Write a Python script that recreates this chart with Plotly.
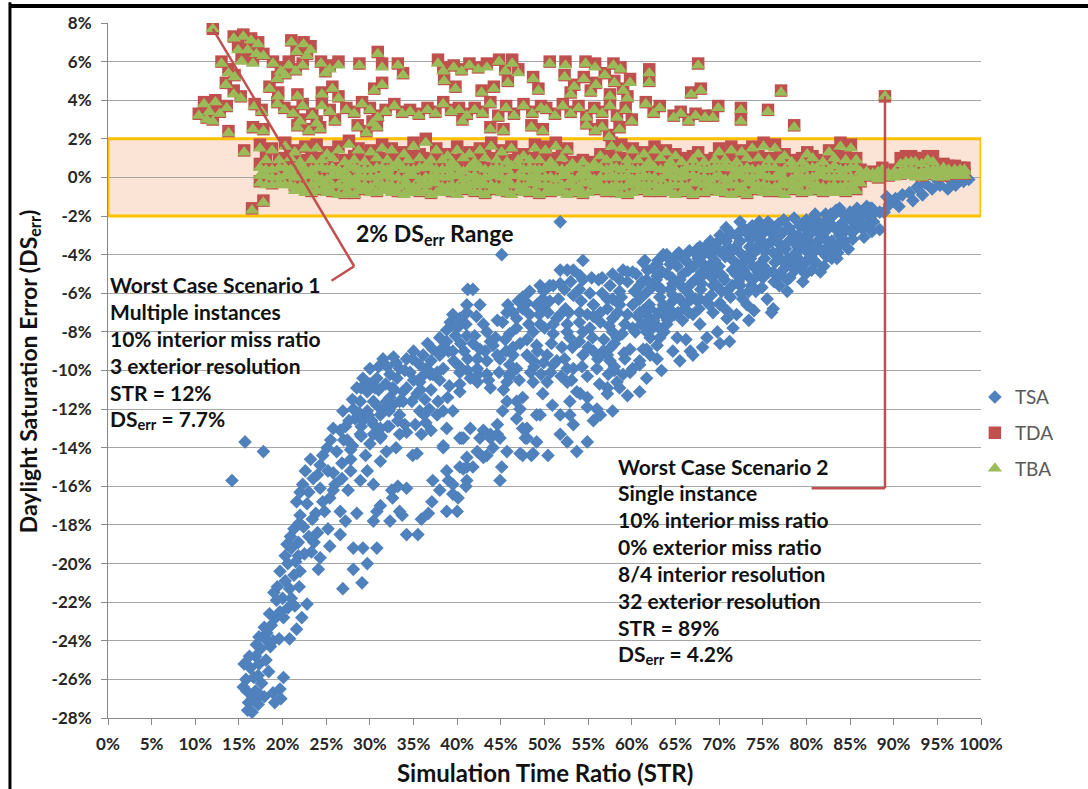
import plotly.graph_objects as go

# ---------------- TSA (Simulation Time Ratio %, Daylight Saturation Error %) ----------------
tsa_tail_str = [
    14.2, 15.7, 17.8, 16.5, 16.1, 17.2, 15.9, 16.9, 15.8, 16.7,
    17.6, 16.3, 17.3, 16.9, 18.1, 17.5, 18.0, 18.6, 17.9, 18.7,
    19.2, 18.5, 19.7, 20.1, 19.3, 19.1, 18.9, 19.7, 20.1, 19.8,
    20.6, 22.8, 22.2, 21.6, 20.8, 21.4, 19.4, 19.7, 20.3, 20.8,
    21.3, 22.0, 19.0, 20.6, 24.1, 16.6, 17.0, 15.6,
    17.4, 16.2, 18.9, 19.6, 18.2, 17.2, 20.0, 21.0, 21.9, 21.8,
    23.3, 23.8, 24.6, 25.8, 25.2, 22.0, 26.8, 27.8, 20.5, 24.0,
    15.5, 16.0, 17.9, 18.4, 17.3,
]
tsa_tail_err = [
    -15.7, -13.7, -14.2, -27.7, -27.2, -27.3, -26.6, -26.6, -26.0, -25.9,
    -26.2, -25.4, -25.2, -24.8, -25.0, -24.4, -23.9, -24.3, -23.3, -23.2,
    -22.8, -22.6, -22.5, -22.8, -21.9, -27.2, -26.7, -26.5, -25.9, -27.0,
    -22.3, -22.1, -22.8, -23.4, -23.9, -22.2, -21.2, -20.4, -20.9, -21.3,
    -20.6, -20.4, -21.5, -20.0, -20.3, -26.9, -24.2, -25.2,
    -26.8, -24.8, -24.0, -23.9, -23.6, -25.8, -21.8, -21.8, -21.2, -19.6,
    -19.4, -17.4, -16.8, -16.2, -15.2, -16.3, -15.6, -15.2, -19.0, -18.4,
    -26.4, -27.6, -26.9, -25.6, -23.8,
]

tsa_low_str = [
    20.3, 21.0, 20.9, 21.8, 22.5, 21.5, 23.0, 22.4, 21.3, 21.6,
    22.0, 22.3, 23.5, 24.3, 25.4, 24.3, 25.1, 22.8, 23.4, 23.0,
    24.8, 25.8, 24.0, 21.9, 22.6, 23.2, 24.6, 25.5, 26.2, 26.6,
    25.8, 26.9, 27.6, 28.1, 28.3, 28.9, 27.4, 26.8, 26.0, 26.6,
    28.5, 27.5, 28.9, 29.7, 30.0, 30.4, 31.2, 31.9, 29.5, 30.4,
    30.8, 32.3, 33.4, 32.5, 33.2, 34.2, 32.6, 30.4, 31.2, 33.7,
    34.2, 35.5, 28.1, 29.2, 30.8, 29.7, 28.1, 26.9, 29.1, 25.4,
    24.3, 26.6, 27.2, 23.6, 25.2, 27.8, 29.0, 30.2, 31.3, 32.2,
]
tsa_low_err = [
    -19.6, -19.2, -18.6, -18.9, -19.5, -19.9, -18.6, -18.1, -18.2, -16.8,
    -17.5, -15.9, -15.6, -16.1, -16.6, -14.9, -14.0, -16.9, -17.7, -16.3,
    -17.3, -15.3, -15.4, -17.9, -15.2, -14.6, -14.4, -13.6, -14.2, -13.1,
    -13.0, -12.1, -12.6, -12.0, -12.5, -13.3, -13.6, -14.8, -15.9, -17.3,
    -17.4, -16.2, -15.7, -15.2, -13.8, -13.3, -14.7, -14.2, -14.4, -15.9,
    -17.3, -17.8, -17.3, -16.2, -16.0, -16.1, -16.6, -17.8, -17.0, -17.5,
    -18.5, -18.5, -19.2, -19.2, -19.2, -20.0, -20.3, -21.3, -21.0, -19.1,
    -19.7, -18.5, -17.8, -18.9, -18.2, -14.6, -12.9, -12.6, -13.4, -12.9,
]

tsa_left_str = [
    27.2, 28.0, 28.5, 28.9, 29.2, 29.7, 29.7, 30.0, 30.4, 30.8,
    31.2, 31.5, 31.5, 31.9, 32.3, 32.3, 32.6, 32.6, 33.1, 33.4,
    33.4, 33.4, 33.4, 33.8, 34.2, 34.2, 34.6, 35.0, 34.9, 34.9,
    35.4, 35.4, 35.7, 35.7, 35.7, 36.1, 36.5, 36.9, 37.2, 37.2,
    37.7, 37.7, 38.0, 38.4, 38.4, 39.5, 40.3, 40.7, 38.4, 40.3,
    29.0, 30.4, 31.2, 32.0, 27.8, 36.3, 37.0, 36.6, 35.9, 37.0,
    39.1, 39.8, 38.9, 34.0, 36.4, 30.6, 31.0, 29.2, 33.0, 32.7,
    27.0, 28.0, 29.0, 28.8, 30.0, 29.8, 31.0, 30.8, 31.2, 32.0,
    31.8, 32.2, 33.0, 32.8, 33.2, 34.0, 33.8, 34.2, 35.0, 34.8,
    35.2, 36.0, 35.8, 36.2, 37.0, 36.8, 38.0, 37.8, 39.0, 38.8,
]
tsa_left_err = [
    -12.9, -11.5, -10.9, -11.6, -10.4, -11.1, -12.1, -9.9, -11.6, -10.4,
    -12.3, -9.4, -12.1, -11.6, -10.2, -11.4, -10.9, -11.8, -10.4, -9.9,
    -11.6, -12.3, -13.3, -11.1, -9.4, -10.9, -10.1, -10.5, -9.4, -14.4,
    -11.2, -14.3, -9.7, -10.6, -12.1, -9.2, -9.9, -10.2, -8.9, -10.2,
    -10.1, -12.3, -9.2, -12.1, -13.9, -12.1, -11.1, -13.5, -9.9, -10.1,
    -13.4, -12.8, -13.5, -12.9, -14.1, -11.5, -11.0, -8.6, -13.3, -13.1,
    -10.8, -9.6, -11.4, -12.8, -12.7, -10.9, -11.0, -12.6, -14.0, -9.3,
    -13.6, -13.9, -10.9, -12.2, -10.7, -12.3, -9.8, -11.8, -13.0, -9.8,
    -10.7, -12.1, -9.6, -11.0, -12.6, -10.0, -11.6, -13.2, -9.0, -11.6,
    -12.8, -10.3, -11.0, -12.3, -9.5, -12.0, -10.5, -11.6, -9.0, -13.0,
]

tsa_mid_str = [
    38.8, 38.8, 39.2, 39.5, 40.3, 40.0, 41.1, 41.1, 41.2, 41.8,
    42.6, 38.0, 38.4, 39.5, 41.8, 41.2, 41.5, 41.1, 42.3, 43.4,
    44.1, 44.9, 46.0, 46.4, 42.3, 42.6, 43.8, 44.6, 46.4, 46.8,
    45.7, 43.4, 40.3, 42.3, 43.8, 45.1, 47.5, 48.3, 46.8, 45.2,
    46.0, 48.7, 49.1, 49.5, 48.3, 50.6, 48.0, 49.8, 52.3, 54.0,
    47.5, 49.1, 45.7, 48.0, 49.5, 45.5, 51.0, 51.8, 54.0, 52.6,
    55.2, 55.6, 57.2, 57.8, 58.6, 59.5, 60.1, 54.4, 52.6, 54.4,
    51.8, 53.3, 54.1, 49.9, 51.0, 50.0, 53.3, 51.4, 52.6, 52.9,
    51.0, 54.0, 51.4, 52.6, 50.3, 53.7, 54.9, 48.7, 50.3, 51.0,
    53.3, 54.4, 55.6, 57.2, 56.0, 52.6, 52.9, 54.1, 54.9, 56.0,
    57.2, 58.3, 59.0, 60.1, 60.9, 61.3, 62.9, 62.9, 51.8, 56.6,
    39.8, 39.6, 41.0, 40.8, 41.2, 42.2, 42.0, 42.4, 43.4, 43.2,
    43.6, 44.6, 44.4, 44.8, 45.8, 45.6, 46.0, 47.0, 46.8, 47.2,
    47.1, 48.2, 48.0, 48.4, 49.4, 49.2, 49.6, 50.6, 50.4, 50.8,
    50.7, 51.8, 51.6, 52.0, 51.9, 53.0, 52.8, 53.2, 53.1, 54.2,
    54.0, 54.4, 54.3, 55.4, 55.2, 55.6, 55.5, 56.6, 56.4, 56.8,
    57.8, 57.6, 58.0, 59.0, 58.8, 59.2, 59.1,
]
tsa_mid_err = [
    -7.9, -8.5, -7.5, -7.1, -7.3, -7.8, -6.6, -7.0, -5.8, -5.8,
    -6.6, -8.3, -8.8, -9.0, -8.6, -9.4, -10.4, -8.2, -9.4, -9.5,
    -8.7, -9.4, -9.7, -9.2, -9.9, -8.9, -8.5, -9.2, -8.8, -9.9,
    -10.6, -10.2, -10.7, -10.6, -10.9, -4.0, -6.2, -7.1, -7.8, -7.5,
    -8.1, -8.0, -8.7, -5.6, -5.9, -5.6, -6.5, -6.3, -5.8, -5.8,
    -6.8, -6.6, -7.0, -8.4, -7.6, -8.4, -7.6, -7.1, -7.5, -8.0,
    -7.8, -6.6, -6.8, -6.3, -5.9, -5.4, -4.9, -4.3, -4.8, -5.3,
    -4.8, -4.8, -5.1, -5.9, -5.6, -6.8, -6.1, -7.3, -7.6, -8.3,
    -8.1, -8.5, -9.5, -9.9, -10.6, -11.1, -11.4, -9.5, -9.2, -9.7,
    -9.9, -9.2, -9.0, -9.2, -9.9, -10.6, -11.6, -11.2, -11.9, -12.0,
    -10.9, -10.6, -10.2, -9.9, -9.5, -8.9, -8.7, -9.4, -2.3, -5.2,
    -8.2, -9.5, -7.6, -9.0, -10.0, -7.2, -8.2, -10.2, -8.0, -9.0,
    -10.5, -7.4, -8.3, -10.1, -6.6, -9.0, -10.3, -6.4, -7.3, -8.6,
    -10.5, -7.6, -9.2, -10.1, -7.1, -9.0, -10.2, -6.4, -7.0, -8.6,
    -10.1, -5.5, -6.3, -8.8, -10.3, -5.4, -7.0, -8.8, -10.5, -6.4,
    -7.0, -8.0, -9.8, -5.2, -6.0, -7.2, -8.3, -6.0, -7.0, -8.4,
    -5.0, -8.8, -9.8, -4.8, -6.2, -7.6, -9.1,
]

tsa_midlow_str = [
    45.7, 47.5, 47.2, 48.0, 49.5, 51.8, 52.9, 53.3, 51.8, 52.6,
    55.6, 56.4, 57.8, 54.9, 53.7, 44.6, 43.8, 42.6, 41.5, 48.0,
    48.7, 47.2, 44.1, 43.0, 40.3, 40.7, 38.4, 44.9, 45.7, 45.1,
    44.9, 47.5, 48.5, 47.8, 49.1, 50.4, 43.4, 43.8, 42.3, 41.1,
    41.8, 41.1, 41.0, 40.3, 40.5, 39.0, 38.8, 39.5, 40.1, 38.0,
    38.8, 37.1, 36.7, 35.9, 37.2, 39.5, 41.1, 40.0, 46.8, 49.1,
    46.8, 45.2, 48.7, 43.0, 44.6, 47.5, 46.0, 45.3, 49.8, 50.9,
]
tsa_midlow_err = [
    -11.6, -11.4, -12.0, -13.0, -12.3, -12.3, -12.3, -12.8, -13.3, -13.7,
    -12.6, -12.3, -12.1, -13.7, -14.2, -12.8, -13.3, -13.5, -13.0, -13.5,
    -14.3, -14.3, -14.0, -14.5, -13.5, -15.1, -14.0, -13.5, -14.2, -15.0,
    -15.7, -14.4, -14.4, -13.5, -13.7, -14.4, -14.4, -13.5, -14.2, -15.0,
    -15.0, -15.7, -16.0, -15.0, -13.5, -15.7, -15.2, -16.4, -16.6, -16.2,
    -17.3, -16.8, -17.4, -17.7, -15.7, -15.9, -14.5, -17.3, -11.6, -12.3,
    -12.5, -12.1, -10.6, -13.1, -13.3, -13.0, -10.2, -11.0, -11.2, -11.8,
]

tsa_main_str = [
    61.5, 64.0, 65.2, 64.4, 62.9, 61.7, 60.9, 62.9, 61.3, 59.5,
    58.6, 57.5, 57.2, 55.6, 54.9, 67.5, 68.6, 70.1, 72.4, 65.9,
    72.4, 74.7, 76.2, 78.5, 80.1, 82.4, 83.0, 83.8, 80.8, 78.5,
    77.0, 76.2, 74.7, 73.9, 72.4, 70.9, 72.7, 70.1, 69.3, 67.8,
    66.3, 64.7, 63.6, 62.9, 60.9, 60.1, 58.6, 57.8, 75.5, 77.8,
    79.3, 80.8, 82.4, 83.8, 84.6, 85.3, 73.2, 70.9, 71.6, 76.2,
    77.8, 79.6, 56.4, 57.8, 59.5, 60.9, 62.1, 63.6, 64.7, 58.0,
    60.1, 62.4, 64.0, 62.1, 56.7, 57.5, 59.8, 61.7, 65.2, 67.0,
    69.8, 66.7, 61.7, 58.6, 59.8, 59.5, 57.2, 69.3, 67.8, 68.6,
    64.7, 63.2, 62.1, 60.9, 61.7, 60.9, 67.0, 70.1, 66.5, 67.5,
    68.2, 69.0, 70.0, 71.0, 71.5, 72.8, 73.5, 74.0, 75.2, 75.8,
    76.8, 77.2, 78.0, 79.0, 79.5, 80.5, 81.2, 81.5, 82.0, 83.0,
    83.5, 84.2, 85.0, 85.8, 86.1, 86.6, 87.3, 87.7, 88.4, 88.4,
    80.0, 84.0, 86.9, 65.5, 66.1, 68.9, 70.6, 71.9, 73.6, 75.0,
    74.2, 76.9, 78.7, 79.9, 81.6, 82.9, 63.4, 64.6, 65.8, 66.8,
    68.0, 69.6, 72.0, 74.0, 58.9, 59.2, 58.0, 63.4, 65.5, 66.2,
    68.1, 71.2, 73.4, 76.0, 70.8, 73.0, 74.6, 76.8, 83.8, 82.2,
    60.5, 60.3, 60.7, 60.4, 61.8, 61.6, 62.0, 61.9, 61.7, 63.0,
    62.8, 63.2, 63.1, 62.9, 64.2, 64.0, 64.4, 64.3, 64.1, 65.4,
    65.2, 65.6, 65.5, 65.3, 66.6, 66.4, 66.8, 66.7, 66.5, 67.8,
    67.6, 68.0, 67.9, 67.7, 69.0, 68.8, 69.2, 69.1, 70.2, 70.0,
    70.4, 70.3, 70.1, 71.4, 71.2, 71.6, 71.5, 71.3, 72.6, 72.4,
    72.8, 72.7, 72.5, 73.8, 73.6, 74.0, 73.9, 73.7, 75.0, 74.8,
    75.2, 75.1, 74.9, 76.2, 76.0, 76.4, 76.3, 77.4, 77.2, 77.6,
    77.5, 78.6, 78.4, 78.8, 78.7, 79.8, 79.6, 80.0, 79.9, 81.0,
    80.8, 81.2, 81.1, 82.2, 82.0, 82.4, 82.3, 83.4, 83.2, 83.6,
    84.6, 84.4, 84.8, 85.8, 85.6, 87.0, 86.8,
]
tsa_main_err = [
    -4.3, -4.0, -4.0, -4.5, -5.1, -5.3, -5.6, -4.5, -4.4, -4.9,
    -5.3, -5.6, -6.3, -6.6, -7.1, -3.7, -3.5, -3.0, -2.3, -4.2,
    -3.9, -3.2, -3.9, -3.3, -3.0, -2.7, -3.5, -3.0, -3.9, -4.5,
    -5.0, -4.9, -4.5, -5.3, -5.6, -5.9, -6.3, -6.6, -5.6, -6.3,
    -5.9, -6.1, -6.6, -5.6, -6.3, -6.6, -6.6, -7.3, -6.3, -5.3,
    -4.7, -4.3, -3.9, -3.5, -2.7, -2.3, -6.6, -7.3, -7.8, -6.8,
    -5.9, -5.4, -7.5, -8.0, -7.1, -7.0, -6.8, -7.1, -6.4, -8.6,
    -7.8, -7.8, -7.6, -8.3, -9.0, -9.5, -8.9, -7.5, -8.3, -7.1,
    -8.0, -9.0, -8.9, -10.9, -10.1, -11.3, -11.2, -7.0, -7.6, -8.3,
    -9.0, -8.3, -9.2, -9.7, -10.4, -11.1, -9.2, -8.6, -4.8, -5.2,
    -4.5, -4.0, -4.6, -3.6, -4.8, -4.4, -3.6, -2.8, -3.8, -2.8,
    -3.4, -4.3, -2.6, -3.6, -2.4, -3.4, -2.2, -3.2, -4.6, -2.0,
    -4.2, -3.2, -1.8, -1.6, -2.3, -3.1, -1.6, -2.3, -1.8, -2.7,
    -2.2, -1.8, -1.5, -5.3, -6.8, -6.6, -5.3, -5.0, -4.2, -5.2,
    -5.9, -5.6, -4.0, -4.4, -4.9, -4.2, -5.8, -5.2, -7.4, -6.3,
    -5.5, -4.9, -7.1, -6.9, -8.1, -9.4, -10.0, -10.0, -9.5, -8.4,
    -8.8, -8.5, -7.4, -7.0, -2.6, -2.7, -2.3, -2.4, -1.6, -1.9,
    -5.0, -5.9, -7.2, -8.0, -4.8, -6.0, -6.6, -7.2, -8.0, -4.3,
    -5.3, -6.2, -7.0, -7.7, -4.2, -5.0, -5.8, -6.8, -7.4, -3.9,
    -4.6, -5.6, -6.3, -7.0, -3.8, -4.4, -5.5, -6.1, -7.0, -3.6,
    -4.2, -4.9, -5.8, -6.8, -3.3, -4.6, -5.2, -6.1, -3.2, -3.8,
    -5.1, -5.9, -6.5, -2.9, -3.9, -4.3, -5.6, -6.2, -2.7, -3.3,
    -4.8, -5.1, -6.0, -2.5, -3.2, -3.9, -4.6, -5.6, -2.5, -3.0,
    -4.2, -4.6, -5.7, -2.7, -3.3, -4.4, -5.4, -2.2, -2.9, -3.7,
    -4.7, -2.1, -2.9, -3.9, -4.8, -2.6, -3.3, -3.8, -5.0, -1.9,
    -2.6, -3.4, -4.4, -2.3, -3.1, -3.6, -4.1, -1.7, -2.6, -3.9,
    -2.0, -3.3, -3.7, -2.2, -2.7, -2.0, -2.5,
]

tsa_extra_str = [
    61.2, 61.3, 61.1, 62.4, 62.3, 62.5, 63.6, 63.5, 63.7, 64.8,
    64.7, 64.9, 66.0, 65.9, 66.1, 67.2, 67.1, 67.3, 68.4, 68.3,
    68.5, 69.6, 69.5, 69.7, 70.8, 70.7, 70.9, 72.0, 71.9, 72.1,
    72.2, 73.2, 73.1, 73.3, 73.4, 74.4, 74.3, 74.5, 75.6, 75.5,
    75.7, 76.8, 76.7, 76.9, 78.0, 77.9, 78.1, 79.2, 79.1, 79.3,
    80.4, 80.3, 80.5, 80.6, 81.6, 81.5, 81.7, 82.8, 82.7, 82.9,
    84.0, 83.9, 85.2, 85.1, 85.3, 86.4, 86.3, 87.6, 87.5,
    40.4, 40.3, 43.0, 46.4, 48.8, 50.0, 49.9, 52.4, 52.3, 55.0,
    54.9, 56.2, 56.1, 56.3, 57.4, 57.3, 58.4, 58.3,
]
tsa_extra_err = [
    -5.4, -6.9, -7.6, -4.7, -5.7, -7.4, -4.0, -4.9, -8.0, -4.4,
    -5.5, -7.1, -4.1, -5.0, -6.6, -3.9, -4.6, -6.3, -3.9, -5.0,
    -6.4, -3.6, -4.3, -5.6, -3.3, -4.1, -6.9, -3.0, -3.6, -4.5,
    -5.4, -2.9, -4.1, -5.1, -5.9, -2.8, -3.6, -4.9, -2.3, -3.5,
    -4.9, -3.0, -3.9, -5.0, -3.3, -4.2, -5.2, -2.5, -3.0, -4.3,
    -2.3, -3.0, -4.1, -4.8, -2.4, -2.9, -3.8, -1.9, -2.4, -3.3,
    -2.4, -2.9, -2.0, -2.8, -3.2, -1.9, -2.6, -1.9, -2.8,
    -8.6, -9.8, -7.6, -7.0, -9.8, -7.8, -9.6, -6.8, -9.4, -8.8,
    -10.3, -5.3, -9.4, -10.7, -7.7, -10.2, -7.0, -8.3,
]

tsa_right_str = [
    89.5, 90.2, 91.0, 91.8, 90.6, 89.2, 92.7, 93.6, 94.4, 95.3,
    96.2, 97.1, 98.0, 98.6, 94.9, 93.3, 96.6, 92.2, 87.5, 88.9,
]
tsa_right_err = [
    -1.4, -1.1, -0.9, -0.8, -1.5, -1.0, -0.5, -0.3, -0.6, -0.4,
    -0.6, -0.4, -0.2, -0.1, -0.1, -0.9, -0.2, -1.2, -1.6, -1.8,
]

# ---------------- TDA / TBA: scattered results (shared STR) ----------------
spread_str = [
    12.0, 14.4, 15.5, 16.4, 17.2, 14.9, 16.0, 17.0, 17.8, 15.3,
    16.6, 21.0, 22.4, 23.2, 21.6, 22.8, 13.0, 13.8, 14.5, 18.9,
    19.8, 20.7, 21.5, 22.3, 19.4, 20.3, 24.4, 25.4, 26.4, 24.9,
    28.8, 30.9, 31.4, 33.2, 33.8, 37.8, 38.4, 39.6, 40.5, 41.4,
    42.4, 43.4, 44.8, 46.3, 45.5, 47.0, 48.7, 49.3, 13.5, 14.4,
    15.2, 18.5, 19.5, 21.7, 24.5, 25.7, 30.5, 31.4, 38.5, 39.8,
    42.8, 44.2, 45.8, 10.4, 11.0, 11.6, 12.3, 12.8, 13.6, 11.3,
    12.0, 16.8, 17.6, 19.4, 20.2, 21.2, 22.3, 23.4, 24.5, 25.4,
    26.4, 27.3, 28.2, 29.1, 30.0, 30.9, 31.8, 32.8, 33.7, 34.6,
    35.6, 36.6, 37.5, 38.4, 39.3, 40.2, 41.1, 42.0, 42.9, 22.0,
    23.9, 26.0, 30.3, 40.6, 43.8, 44.7, 45.6, 46.5, 47.6, 48.6,
    49.6, 13.8, 16.6, 17.8, 21.7, 23.0, 24.3, 28.6, 29.6, 30.8,
    43.8, 45.3, 48.5, 49.8, 50.6, 52.4, 54.7, 55.8, 57.9, 58.7,
    62.0, 62.0, 67.6, 52.3, 53.4, 54.5, 55.9, 56.9, 58.0, 59.0,
    59.8, 53.0, 55.3, 57.5, 59.5, 66.8, 67.9, 77.1, 89.0, 50.2,
    51.2, 52.1, 53.0, 53.9, 54.8, 55.7, 56.6, 57.5, 58.3, 59.3,
    60.0, 61.6, 62.5, 63.2, 64.8, 65.6, 66.5, 67.3, 68.4, 69.3,
    69.9, 72.5, 72.5, 75.6, 78.6, 54.8, 55.8, 56.6, 57.4, 58.6,
    15.6, 16.5, 17.8,
]
spread_tda = [
    7.7, 7.3, 7.4, 7.2, 7.0, 6.8, 6.7, 6.5, 6.4, 6.2,
    6.1, 7.1, 7.0, 6.8, 6.6, 6.4, 6.0, 5.6, 5.3, 6.0,
    5.7, 6.0, 5.6, 5.9, 5.2, 5.4, 6.0, 5.8, 6.0, 5.5,
    5.9, 6.5, 5.9, 5.9, 5.4, 6.1, 5.7, 5.8, 5.6, 5.9,
    5.7, 5.9, 6.1, 6.1, 5.6, 5.6, 5.2, 4.6, 4.9, 4.5,
    4.2, 4.7, 4.4, 4.3, 4.4, 4.7, 4.6, 4.9, 5.1, 4.7,
    4.5, 4.7, 5.0, 3.3, 3.9, 3.5, 4.0, 3.4, 3.7, 3.1,
    3.0, 3.8, 3.5, 3.9, 3.6, 3.4, 3.8, 3.3, 3.9, 3.5,
    4.2, 3.6, 3.4, 3.9, 3.6, 3.2, 3.5, 3.8, 3.4, 3.5,
    3.3, 3.6, 3.4, 3.9, 3.5, 3.6, 3.3, 3.6, 3.4, 3.0,
    2.9, 3.0, 2.9, 3.0, 3.9, 3.2, 3.7, 3.3, 3.8, 3.4,
    3.7, 2.4, 2.6, 2.5, 2.7, 2.5, 2.6, 2.7, 2.4, 2.7,
    2.6, 2.5, 2.7, 2.5, 6.0, 6.0, 6.0, 5.9, 5.9, 5.7,
    5.6, 5.0, 5.9, 5.3, 4.8, 5.2, 4.9, 5.4, 5.0, 4.6,
    5.1, 4.4, 4.5, 4.3, 4.2, 4.4, 4.6, 4.5, 4.2, 3.6,
    3.3, 3.8, 3.4, 3.7, 3.2, 3.6, 3.4, 3.8, 3.2, 3.6,
    3.0, 3.9, 3.4, 3.7, 3.2, 3.4, 3.0, 3.3, 3.2, 3.2,
    3.7, 3.6, 3.0, 3.5, 2.7, 2.8, 2.5, 2.7, 2.2, 2.6,
    1.4, -1.6, -1.2,
]
spread_tba = [
    7.7, 7.2, 7.3, 7.1, 6.9, 6.6, 6.6, 6.4, 6.3, 6.0,
    5.9, 7.0, 6.9, 6.6, 6.5, 6.3, 5.9, 5.4, 5.2, 5.9,
    5.5, 5.8, 5.5, 5.8, 5.1, 5.3, 5.9, 5.6, 5.8, 5.4,
    5.8, 6.4, 5.7, 5.8, 5.3, 5.9, 5.5, 5.7, 5.5, 5.8,
    5.6, 5.7, 6.0, 5.9, 5.5, 5.4, 5.1, 4.5, 4.8, 4.3,
    4.1, 4.6, 4.2, 4.2, 4.3, 4.6, 4.5, 4.8, 5.0, 4.6,
    4.4, 4.6, 4.9, 3.2, 3.8, 3.4, 3.9, 3.3, 3.6, 3.0,
    2.9, 3.7, 3.4, 3.8, 3.5, 3.3, 3.7, 3.2, 3.7, 3.4,
    4.1, 3.5, 3.3, 3.8, 3.5, 3.1, 3.4, 3.7, 3.3, 3.4,
    3.2, 3.5, 3.3, 3.8, 3.4, 3.5, 3.2, 3.5, 3.3, 2.9,
    2.8, 2.9, 2.8, 2.9, 3.8, 3.1, 3.6, 3.2, 3.7, 3.3,
    3.6, 2.3, 2.5, 2.4, 2.6, 2.4, 2.5, 2.6, 2.3, 2.6,
    2.5, 2.4, 2.6, 2.4, 5.9, 5.8, 5.9, 5.7, 5.8, 5.6,
    5.4, 4.9, 5.8, 5.2, 4.7, 5.1, 4.8, 5.3, 4.9, 4.5,
    4.9, 4.3, 4.4, 4.2, 4.1, 4.3, 4.5, 4.4, 4.2, 3.5,
    3.2, 3.7, 3.3, 3.6, 3.1, 3.5, 3.3, 3.7, 3.1, 3.5,
    2.9, 3.8, 3.3, 3.6, 3.1, 3.3, 2.9, 3.2, 3.1, 3.1,
    3.6, 3.5, 2.9, 3.4, 2.6, 2.7, 2.4, 2.6, 2.1, 2.5,
    1.3, -1.7, -1.3,
]

# ---------------- TDA / TBA: dense results near zero error ----------------
band_str_a = [
    17.4, 18.8, 20.3, 21.4, 22.6, 23.9, 25.1, 26.4, 27.6, 28.7,
    30.1, 31.4, 32.5, 33.9, 35.0, 36.4, 37.6, 38.9, 40.0, 41.4,
    42.6, 43.9, 45.1, 46.2, 47.6, 48.9, 50.1, 51.3, 52.6, 53.9,
    55.0, 56.4, 57.7, 58.8, 60.1, 61.4, 62.6, 63.9, 65.0, 66.3,
    67.6, 68.9, 70.0, 71.4, 72.6, 73.8, 75.1, 76.4, 77.5, 78.9,
    80.1, 81.2, 82.6, 83.9, 85.1, 86.2, 87.6, 88.7, 90.1, 91.4,
    92.5, 93.9, 95.0, 96.3, 97.6,
]
band_str_b = [
    18.1, 19.6, 20.9, 22.0, 23.3, 24.5, 25.7, 27.1, 28.2, 29.4,
    30.8, 32.0, 33.2, 34.4, 35.7, 37.0, 38.3, 39.4, 40.7, 42.0,
    43.2, 44.5, 45.7, 47.0, 48.3, 49.4, 50.7, 52.0, 53.2, 54.4,
    55.7, 57.1, 58.2, 59.5, 60.7, 62.0, 63.3, 64.4, 65.7, 67.0,
    68.3, 69.5, 70.7, 72.0, 73.2, 74.5, 75.7, 77.0, 78.3, 79.5,
    80.7, 81.9, 83.2, 84.5, 85.7, 86.9, 88.2, 89.4, 90.8, 92.0,
    93.2, 94.5, 95.7, 97.0, 98.1,
]

tda_a1 = [
    1.7, 1.5, 1.8, 1.4, 1.6, 1.7, 1.3, 1.6, 1.9, 1.5,
    1.4, 1.7, 1.5, 1.3, 1.8, 2.0, 1.5, 1.2, 1.6, 1.3,
    1.5, 1.8, 1.4, 1.6, 1.2, 1.7, 1.6, 1.8, 1.5, None,
    None, 1.2, 1.8, 1.7, 1.5, 1.3, 1.6, 1.4, 1.2, None,
    1.3, None, 1.5, 1.6, 1.4, 1.6, 1.8, 1.7, 1.2, None,
    1.3, None, 1.4, 1.8, 1.7, None, None, None, None, 1.1,
    1.0, 1.1, None, None, None,
]
tba_a1 = [
    1.5, 1.4, 1.6, 1.3, 1.5, 1.5, 1.2, 1.4, 1.7, 1.4,
    1.3, 1.5, 1.4, 1.2, 1.6, 1.8, 1.4, 1.1, 1.4, 1.2,
    1.4, 1.6, 1.3, 1.5, 1.1, 1.5, 1.4, 1.6, 1.4, None,
    None, 1.1, 1.6, 1.5, 1.4, 1.2, 1.4, 1.3, 1.1, None,
    1.2, None, 1.3, 1.4, 1.3, 1.5, 1.6, 1.5, 1.1, None,
    1.2, None, 1.3, 1.6, 1.5, None, None, None, None, 0.8,
    0.8, 0.9, None, None, None,
]
tda_a3 = [
    0.7, 0.5, 0.6, 0.7, 0.5, 0.6, 0.6, 0.5, 0.7, 0.6,
    0.5, 0.7, 0.6, 0.5, 0.6, 0.7, 0.6, 0.5, 0.6, 0.7,
    0.6, 0.5, 0.6, 0.7, 0.5, 0.6, 0.6, 0.7, 0.5, 0.6,
    0.7, 0.6, 0.7, 0.6, 0.5, 0.6, 0.7, 0.5, 0.6, 0.6,
    0.7, 0.5, 0.6, 0.7, 0.6, 0.5, 0.6, 0.7, 0.6, 0.5,
    0.6, 0.7, 0.6, 0.5, 0.6, 0.4, 0.3, 0.5, 0.4, 0.6,
    0.5, 0.6, 0.5, 0.6, 0.5,
]
tba_a3 = [
    0.5, 0.4, 0.5, 0.5, 0.4, 0.5, 0.4, 0.4, 0.6, 0.4,
    0.4, 0.5, 0.5, 0.4, 0.4, 0.6, 0.4, 0.4, 0.5, 0.5,
    0.5, 0.4, 0.4, 0.6, 0.4, 0.4, 0.5, 0.5, 0.4, 0.5,
    0.5, 0.5, 0.5, 0.4, 0.4, 0.5, 0.5, 0.4, 0.4, 0.5,
    0.5, 0.4, 0.5, 0.5, 0.4, 0.4, 0.5, 0.5, 0.4, 0.4,
    0.5, 0.5, 0.4, 0.4, 0.5, 0.3, 0.2, 0.4, 0.3, 0.4,
    0.3, 0.4, 0.4, 0.4, 0.4,
]
tba_a4 = [
    0.1, 0.0, 0.1, 0.0, 0.1, 0.0, -0.1, 0.1, 0.0, 0.1,
    0.0, 0.1, 0.0, -0.1, 0.1, 0.0, 0.1, 0.0, 0.1, 0.0,
    -0.1, 0.1, 0.0, 0.1, 0.0, 0.1, 0.0, -0.1, 0.1, 0.0,
    0.1, 0.0, 0.1, 0.0, -0.1, 0.1, 0.0, 0.1, 0.0, 0.1,
    0.0, -0.1, 0.1, 0.0, 0.1, 0.0, 0.1, 0.0, -0.1, 0.1,
    0.0, 0.1, 0.0, 0.1, 0.0, 0.0, 0.0, 0.1, 0.0, 0.1,
    0.0, 0.1, 0.0, 0.1, 0.1,
]
tda_a5 = [
    -0.2, -0.3, -0.2, -0.4, -0.3, -0.2, -0.4, -0.3, -0.2, -0.3,
    -0.4, -0.3, -0.2, -0.3, -0.4, -0.3, -0.2, -0.3, -0.4, -0.3,
    -0.3, -0.2, -0.4, -0.3, -0.3, -0.2, -0.3, -0.4, -0.3, -0.3,
    -0.2, -0.3, -0.4, -0.3, -0.3, -0.2, -0.3, -0.4, -0.3, -0.3,
    -0.2, -0.3, -0.4, -0.3, -0.3, -0.2, -0.3, -0.4, -0.3, -0.3,
    -0.2, -0.3, -0.3, -0.4, -0.3, -0.2, None, None, None, None,
    None, None, None, None, None,
]
tba_a5 = [
    -0.3, -0.4, -0.4, -0.5, -0.4, -0.3, -0.5, -0.4, -0.4, -0.4,
    -0.5, -0.4, -0.4, -0.4, -0.5, -0.4, -0.3, -0.5, -0.5, -0.4,
    -0.4, -0.4, -0.5, -0.4, -0.5, -0.3, -0.4, -0.5, -0.4, -0.5,
    -0.3, -0.4, -0.5, -0.5, -0.4, -0.4, -0.4, -0.5, -0.4, -0.5,
    -0.3, -0.4, -0.5, -0.4, -0.5, -0.3, -0.4, -0.5, -0.4, -0.4,
    -0.3, -0.4, -0.5, -0.5, -0.4, -0.3, None, None, None, None,
    None, None, None, None, None,
]
tba_a6 = [
    None, None, None, -0.7, -0.8, -0.7, -0.8, -0.9, -0.8, -0.7,
    -0.8, -0.7, -0.8, -0.9, -0.8, -0.7, -0.8, -0.8, -0.9, -0.7,
    -0.8, -0.7, -0.8, -0.9, -0.8, -0.7, -0.8, -0.8, -0.9, -0.7,
    -0.8, -0.7, -0.8, -0.9, -0.8, -0.7, -0.8, -0.8, -0.9, -0.7,
    -0.8, -0.7, -0.8, -0.9, -0.8, -0.7, -0.8, -0.8, -0.9, -0.7,
    -0.8, -0.7, -0.8, -0.8, -0.7, None, None, None, None, None,
    None, None, None, None, None,
]
tda_b2 = [
    1.1, 1.0, 1.2, 0.9, 1.1, 1.0, 1.2, 0.9, 1.1, 1.0,
    1.1, 1.0, 0.9, 1.1, 1.2, 1.0, 1.1, 0.9, 1.1, 1.0,
    1.2, 1.0, 0.9, 1.1, 1.0, 1.1, 1.0, 1.2, 0.8, 0.9,
    0.8, 1.1, 1.2, 1.0, 1.1, 1.0, 1.1, 0.9, 1.0, 1.1,
    0.9, 1.0, 1.1, 1.0, 1.2, 1.1, 1.0, 1.1, 0.9, 1.0,
    1.1, 0.9, 1.2, 1.1, 1.0, None, None, None, 1.0, 1.1,
    1.0, 1.1, 0.7, 0.6, 0.5,
]
tba_b2 = [
    0.9, 0.9, 1.0, 0.8, 0.9, 0.9, 1.0, 0.8, 0.9, 0.8,
    1.0, 0.9, 0.8, 0.9, 1.0, 0.9, 0.9, 0.8, 1.0, 0.8,
    1.0, 0.9, 0.8, 0.9, 0.9, 0.9, 0.8, 1.0, 0.7, 0.8,
    0.7, 0.9, 1.0, 0.9, 0.9, 0.8, 1.0, 0.8, 0.8, 0.9,
    0.8, 0.9, 0.9, 0.8, 1.0, 1.0, 0.9, 0.9, 0.8, 0.8,
    1.0, 0.8, 1.0, 0.9, 0.9, None, None, None, 0.7, 0.8,
    0.7, 0.8, 0.5, 0.4, 0.4,
]
tba_b3 = [
    0.4, 0.5, 0.4, 0.6, 0.4, 0.5, 0.5, 0.3, 0.5, 0.4,
    0.5, 0.4, 0.6, 0.4, 0.5, 0.5, 0.4, 0.5, 0.3, 0.5,
    0.4, 0.5, 0.4, 0.6, 0.5, 0.4, 0.5, 0.4, 0.5, 0.3,
    0.5, 0.4, 0.5, 0.6, 0.4, 0.5, 0.4, 0.5, 0.3, 0.5,
    0.4, 0.5, 0.6, 0.4, 0.5, 0.4, 0.5, 0.3, 0.5, 0.4,
    0.5, 0.4, 0.6, 0.4, 0.5, 0.3, 0.3, 0.2, 0.3, 0.4,
    0.3, 0.4, 0.3, 0.3, 0.3,
]
tda_b4 = [
    0.2, 0.1, 0.3, 0.1, 0.2, 0.0, 0.2, 0.1, 0.0, 0.2,
    0.1, 0.3, 0.1, 0.2, 0.0, 0.2, 0.1, 0.3, 0.0, 0.2,
    0.1, 0.2, 0.0, 0.3, 0.1, 0.2, 0.1, 0.3, 0.1, 0.2,
    0.0, 0.2, 0.1, 0.3, 0.1, 0.2, 0.0, 0.2, 0.1, 0.3,
    0.1, 0.2, 0.0, 0.2, 0.1, 0.3, 0.1, 0.2, 0.0, 0.2,
    0.1, 0.3, 0.1, 0.2, 0.0, 0.1, 0.0, 0.1, 0.2, 0.3,
    0.1, 0.2, 0.1, 0.2, 0.2,
]
tba_b4 = [
    0.1, 0.0, 0.1, 0.0, 0.1, -0.1, 0.1, -0.1, -0.1, 0.0,
    0.0, 0.1, 0.0, 0.1, -0.1, 0.0, 0.0, 0.1, -0.1, 0.1,
    0.0, 0.1, -0.1, 0.1, 0.0, 0.0, 0.0, 0.1, -0.1, 0.1,
    -0.1, 0.0, 0.0, 0.1, 0.0, 0.0, -0.1, 0.1, 0.0, 0.1,
    0.0, 0.0, -0.1, 0.1, 0.0, 0.1, 0.0, 0.1, -0.1, 0.0,
    0.0, 0.1, 0.0, 0.0, -0.1, 0.0, -0.1, 0.0, 0.1, 0.1,
    0.0, 0.1, 0.0, 0.1, 0.1,
]
tba_b5 = [
    -0.4, -0.3, -0.4, -0.5, -0.4, -0.3, -0.4, -0.5, -0.4, -0.4,
    -0.3, -0.4, -0.5, -0.4, -0.4, -0.3, -0.5, -0.4, -0.4, -0.3,
    -0.4, -0.5, -0.4, -0.4, -0.3, -0.4, -0.5, -0.4, -0.4, -0.3,
    -0.4, -0.5, -0.4, -0.4, -0.3, -0.4, -0.5, -0.4, -0.4, -0.3,
    -0.4, -0.5, -0.4, -0.4, -0.3, -0.4, -0.5, -0.4, -0.4, -0.3,
    -0.4, -0.5, -0.4, -0.4, -0.3, None, None, None, None, None,
    None, None, None, None, None,
]
tda_b6 = [
    None, None, None, -0.5, -0.7, -0.6, -0.7, -0.8, -0.8, -0.6,
    -0.7, -0.5, -0.7, -0.6, -0.7, -0.8, -0.6, -0.7, -0.6, -0.7,
    -0.8, -0.6, -0.7, -0.6, -0.7, -0.8, -0.7, -0.6, -0.7, -0.8,
    -0.6, -0.7, -0.7, -0.8, -0.6, -0.7, -0.7, -0.6, -0.7, -0.8,
    -0.7, -0.6, -0.7, -0.7, -0.8, -0.6, -0.7, -0.7, -0.6, -0.7,
    -0.6, -0.7, -0.6, -0.7, -0.6, None, None, None, None, None,
    None, None, None, None, None,
]
tba_b6 = [
    None, None, None, -0.6, -0.8, -0.7, -0.8, -0.9, -0.9, -0.7,
    -0.8, -0.6, -0.8, -0.7, -0.8, -0.9, -0.7, -0.8, -0.7, -0.8,
    -0.9, -0.7, -0.8, -0.7, -0.8, -0.9, -0.8, -0.7, -0.8, -0.9,
    -0.7, -0.8, -0.8, -0.9, -0.7, -0.8, -0.8, -0.7, -0.8, -0.9,
    -0.8, -0.7, -0.8, -0.8, -0.9, -0.7, -0.8, -0.8, -0.7, -0.8,
    -0.7, -0.8, -0.7, -0.8, -0.7, None, None, None, None, None,
    None, None, None, None, None,
]

# ---------------- annotation text ----------------
tick_x = list(range(0, 101, 5))
tick_y = list(range(-28, 9, 2))
# subscript rendered as a smaller, lowered span
ERR = '<span style="font-size:70%;baseline-shift:-22%">err</span>'
scenario1_lines = [
    "Worst Case Scenario 1",
    "Multiple instances",
    "10% interior miss ratio",
    "3 exterior resolution",
    "STR = 12%",
    f"DS{ERR} = 7.7%",
]
scenario2_lines = [
    "Worst Case Scenario 2",
    "Single instance",
    "10% interior miss ratio",
    "0% exterior miss ratio",
    "8/4 interior resolution",
    "32 exterior resolution",
    "STR = 89%",
    f"DS{ERR} = 4.2%",
]
range_label = f"2% DS{ERR} Range"
x_title = "Simulation Time Ratio (STR)"
y_title = f"Daylight Saturation Error (DS{ERR})"


def gather(columns_and_rows):
    xs, ys = [], []
    for cols, row in columns_and_rows:
        for x, y in zip(cols, row):
            if y is not None:
                xs.append(x)
                ys.append(y)
    return xs, ys


tsa_x = (tsa_tail_str + tsa_low_str + tsa_left_str + tsa_mid_str
         + tsa_midlow_str + tsa_main_str + tsa_extra_str + tsa_right_str)
tsa_y = (tsa_tail_err + tsa_low_err + tsa_left_err + tsa_mid_err
         + tsa_midlow_err + tsa_main_err + tsa_extra_err + tsa_right_err)

bx, by = gather([(band_str_a, tda_a1), (band_str_b, tda_b2), (band_str_a, tda_a3),
                 (band_str_b, tda_b4), (band_str_a, tda_a5), (band_str_b, tda_b6)])
tda_x = spread_str + bx
tda_y = spread_tda + by
bx, by = gather([(band_str_a, tba_a1), (band_str_b, tba_b2), (band_str_a, tba_a3),
                 (band_str_b, tba_b3), (band_str_a, tba_a4), (band_str_b, tba_b4),
                 (band_str_a, tba_a5), (band_str_b, tba_b5), (band_str_a, tba_a6),
                 (band_str_b, tba_b6)])
tba_x = spread_str + bx
tba_y = spread_tba + by

FONT = "Lato"
RED_LINE = "#C0504D"
INK = "#111111"

fig = go.Figure()
fig.add_trace(go.Scatter(
    x=tsa_x, y=tsa_y, mode="markers", name="TSA", legendgroup="a",
    marker=dict(symbol="diamond", size=10.5, color="#4F81BD", line=dict(width=0)),
))
fig.add_trace(go.Scatter(
    x=tda_x, y=tda_y, mode="markers", name="TDA", legendgroup="b",
    marker=dict(symbol="square", size=12.5, color="#C0504D", line=dict(width=0)),
))
fig.add_trace(go.Scatter(
    x=tba_x, y=tba_y, mode="markers", name="TBA", legendgroup="c",
    marker=dict(symbol="triangle-up", size=12.5, color="#9BBB59", line=dict(width=0)),
))

shapes = [
    # 2% error band
    dict(type="rect", xref="x", yref="y", x0=0, x1=100, y0=-2, y1=2,
         fillcolor="#FBE4D6", line=dict(width=0), layer="below"),
    dict(type="rect", xref="x", yref="y", x0=0, x1=100, y0=-2, y1=2,
         fillcolor="rgba(0,0,0,0)", line=dict(color="#FFC000", width=3), layer="between"),
    # leader for scenario 1
    dict(type="line", xref="x", yref="y", x0=12.0, y0=7.7, x1=28.2, y1=-4.6,
         line=dict(color=RED_LINE, width=2.5), layer="above"),
    dict(type="line", xref="x", yref="y", x0=28.2, y0=-4.6, x1=25.6, y1=-5.35,
         line=dict(color=RED_LINE, width=2.5), layer="above"),
    # leader for scenario 2
    dict(type="line", xref="x", yref="y", x0=89.0, y0=4.2, x1=89.0, y1=-16.1,
         line=dict(color=RED_LINE, width=2.5), layer="above"),
    dict(type="line", xref="x", yref="y", x0=89.0, y0=-16.1, x1=80.6, y1=-16.1,
         line=dict(color=RED_LINE, width=2.5), layer="above"),
    # frame
    dict(type="line", xref="paper", yref="paper", x0=-0.1123, x1=-0.1123, y0=-0.2, y1=1.03,
         line=dict(color="black", width=3)),
    dict(type="line", xref="paper", yref="paper", x0=-0.1123, x1=1.2, y0=1.0244, y1=1.0244,
         line=dict(color="black", width=4)),
]

annotations = []
text_font = dict(family=FONT, size=21, color=INK, weight="bold")
for i, line in enumerate(scenario1_lines):
    annotations.append(dict(x=0.45, y=-5.56 - 1.393 * i, xref="x", yref="y", text=line,
                            showarrow=False, xanchor="left", yanchor="middle", xshift=-4,
                            font=text_font))
for i, line in enumerate(scenario2_lines):
    annotations.append(dict(x=58.2, y=-14.95 - 1.393 * i, xref="x", yref="y", text=line,
                            showarrow=False, xanchor="left", yanchor="middle",
                            font=text_font))
annotations.append(dict(x=37.5, y=-2.93, xref="x", yref="y", text=range_label,
                        showarrow=False, xanchor="center", yanchor="middle",
                        font=dict(family=FONT, size=23, color=INK, weight="bold")))
annotations.append(dict(x=-0.0905, y=0.499, xref="paper", yref="paper",
                        text=y_title, textangle=-90,
                        showarrow=False, xanchor="center", yanchor="middle",
                        font=dict(family=FONT, size=23, color=INK, weight="bold")))
annotations.append(dict(x=0.5006, y=-0.079, xref="paper", yref="paper",
                        text=x_title,
                        showarrow=False, xanchor="center", yanchor="middle",
                        font=dict(family=FONT, size=24, color=INK, weight="bold")))

tick_font = dict(family=FONT, size=17, color="#262626", weight="bold")
fig.update_layout(
    width=1088, height=789,
    margin=dict(l=108, r=107, t=20, b=71),
    paper_bgcolor="white", plot_bgcolor="white",
    showlegend=True,
    legend=dict(x=0.993, y=0.489, xanchor="left", yanchor="top",
                font=dict(family=FONT, size=19, color="#595959"),
                itemwidth=30, tracegroupgap=8, bgcolor="rgba(0,0,0,0)"),
    shapes=shapes,
    annotations=annotations,
    xaxis=dict(range=[0, 100], tickvals=tick_x, ticktext=[f"{v}%" for v in tick_x],
               showgrid=False, zeroline=False, showline=True, linecolor="#898989", linewidth=1,
               ticks="outside", ticklen=6, tickcolor="#898989", tickfont=tick_font,
               ticklabelstandoff=5),
    yaxis=dict(range=[-28, 8], tickvals=tick_y, ticktext=[f"{v}%" for v in tick_y],
               showgrid=True, gridcolor="#A6A6A6", gridwidth=1.3, zeroline=False,
               showline=True, linecolor="#898989", linewidth=1,
               ticks="outside", ticklen=6, tickcolor="#898989", tickfont=tick_font,
               ticklabelstandoff=6),
)

fig.write_html("out.html")
